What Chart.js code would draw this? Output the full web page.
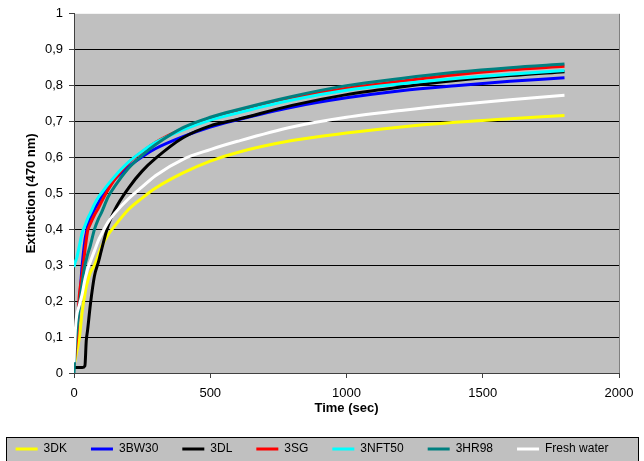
<!DOCTYPE html>
<html lang="en">
<head>
<meta charset="UTF-8">
<title>Extinction</title>
<script src="https://cdn.jsdelivr.net/npm/chart.js"></script>
<style>
  body { margin: 0; background: #fff; }
  .wrap { width: 644px; height: 461px; position: relative; }
</style>
</head>
<body>
<div class="wrap"><canvas id="extChart"></canvas></div>

<script>
// time axis (sec)
const timeSec = [0, 5, 10, 20, 30, 40, 45, 50, 60, 75, 90, 100, 125, 150, 200, 250, 300, 400, 500, 600, 800, 1000, 1200, 1400, 1600, 1800];

// extinction values
const v3DK    = [.02, .04, .06, .10, .17, .22, .24, .255, .28, .30, .33, .35, .385, .41, .455, .487, .515, .557, .59, .614, .647, .668, .685, .698, .708, .717];
const v3BW30  = [.05, .10, .13, .20, .30, .37, .39, .41, .43, .455, .475, .49, .515, .54, .574, .602, .625, .658, .685, .705, .74, .766, .786, .80, .812, .822];
const v3DL    = [.015, .015, .015, .015, .015, .02, .09, .12, .19, .27, .31, .34, .41, .455, .515, .562, .598, .655, .688, .706, .745, .775, .796, .814, .828, .839];
const v3SG    = [.02, .06, .10, .22, .275, .34, .37, .395, .415, .44, .46, .475, .51, .54, .585, .615, .642, .68, .708, .728, .765, .793, .812, .83, .844, .854];
const v3NFT50 = [.295, .31, .32, .355, .39, .41, .42, .43, .445, .47, .49, .50, .525, .548, .587, .617, .642, .677, .704, .724, .76, .787, .805, .82, .832, .842];
const v3HR98  = [0, .08, .12, .19, .25, .30, .315, .33, .355, .40, .43, .445, .49, .52, .57, .606, .636, .683, .712, .733, .77, .80, .82, .837, .85, .86];
const vFresh  = [.03, .12, .16, .19, .22, .26, .275, .29, .31, .34, .37, .385, .42, .445, .485, .518, .55, .595, .622, .645, .685, .712, .731, .747, .761, .773];

const seriesNames  = ['3DK', '3BW30', '3DL', '3SG', '3NFT50', '3HR98', 'Fresh water'];
const seriesValues = [v3DK, v3BW30, v3DL, v3SG, v3NFT50, v3HR98, vFresh];
const seriesColors = ['#ffff00', '#0000ff', '#000000', '#ff0000', '#00ffff', '#008080', '#ffffff'];

const xTicks = [0, 500, 1000, 1500, 2000];
const yTicks = [0, 0.1, 0.2, 0.3, 0.4, 0.5, 0.6, 0.7, 0.8, 0.9, 1];

const FONT = "'Liberation Sans', Arial, sans-serif";

const datasets = seriesNames.map((name, i) => ({
  label: name,
  data: timeSec.map((t, k) => ({ x: t, y: seriesValues[i][k] })),
  borderColor: seriesColors[i],
  backgroundColor: seriesColors[i],
  borderWidth: 3,
  pointRadius: 0,
  cubicInterpolationMode: 'monotone',
  order: seriesNames.length - 1 - i   // later series drawn on top, like Excel
}));

// grey plot area + framed legend
const excelLook = {
  id: 'excelLook',
  beforeDraw(chart) {
    const { ctx, chartArea: a } = chart;
    ctx.save();
    ctx.fillStyle = '#c0c0c0';
    ctx.fillRect(a.left, a.top, a.right - a.left, a.bottom - a.top);
    // legend frame
    ctx.fillRect(6, 437, 633, 26);
    ctx.strokeStyle = '#000';
    ctx.lineWidth = 1;
    ctx.strokeRect(6.5, 437.5, 632, 26);
    ctx.restore();
  },
  afterDraw(chart) {
    const { ctx, chartArea: a } = chart;
    ctx.save();
    ctx.strokeStyle = '#808080';
    ctx.lineWidth = 1;
    ctx.beginPath();
    ctx.moveTo(a.right + 0.5, a.top);
    ctx.lineTo(a.right + 0.5, a.bottom);
    ctx.stroke();
    ctx.restore();
  }
};

new Chart(document.getElementById('extChart'), {
  type: 'line',
  data: { datasets },
  plugins: [excelLook],
  options: {
    responsive: true,
    maintainAspectRatio: false,
    animation: false,
    layout: { padding: { left: -20, right: 0, top: 11, bottom: -4 } },
    plugins: {
      tooltip: { enabled: false },
      legend: {
        position: 'bottom',
        labels: {
          usePointStyle: true,
          pointStyle: 'line',
          pointStyleWidth: 22,
          padding: 24,
          color: '#000',
          font: { family: FONT, size: 12 },
          sort: (a, b) => a.datasetIndex - b.datasetIndex
        }
      }
    },
    scales: {
      x: {
        type: 'linear',
        min: 0,
        max: 2000,
        afterBuildTicks: (s) => { s.ticks = xTicks.map(v => ({ value: v })); },
        afterFit: (s) => { s.height = 46; s.paddingRight = 25; },
        border: { display: true, color: '#404040', width: 1 },
        grid: { drawOnChartArea: false, drawTicks: true, tickLength: 5, tickColor: '#404040' },
        ticks: {
          color: '#000',
          padding: 8,
          maxRotation: 0,
          font: { family: FONT, size: 13 },
          callback: (v) => String(v)
        },
        title: { display: true, text: 'Time (sec)', color: '#000', padding: { top: 0, bottom: 3 }, font: { family: FONT, size: 13, weight: 'bold' } }
      },
      y: {
        min: 0,
        max: 1,
        afterBuildTicks: (s) => { s.ticks = yTicks.map(v => ({ value: v })); },
        afterFit: (s) => { s.width = 94; },
        border: { display: true, color: '#404040', width: 1 },
        grid: {
          color: (c) => (c.tick && (c.tick.value < 0.01 || c.tick.value > 0.99)) ? 'rgba(0,0,0,0)' : '#000',
          lineWidth: 1,
          drawTicks: true,
          tickLength: 5,
          tickColor: '#404040'
        },
        ticks: {
          color: '#000',
          padding: 6,
          font: { family: FONT, size: 13 },
          callback: (v) => (v === 0 || v === 1) ? String(v) : Number(v).toFixed(1).replace('.', ',')
        },
        title: { display: true, text: 'Extinction (470 nm)', color: '#000', padding: { top: 44, bottom: 0 }, font: { family: FONT, size: 13, weight: 'bold' } }
      }
    }
  }
});
</script>
</body>
</html>
